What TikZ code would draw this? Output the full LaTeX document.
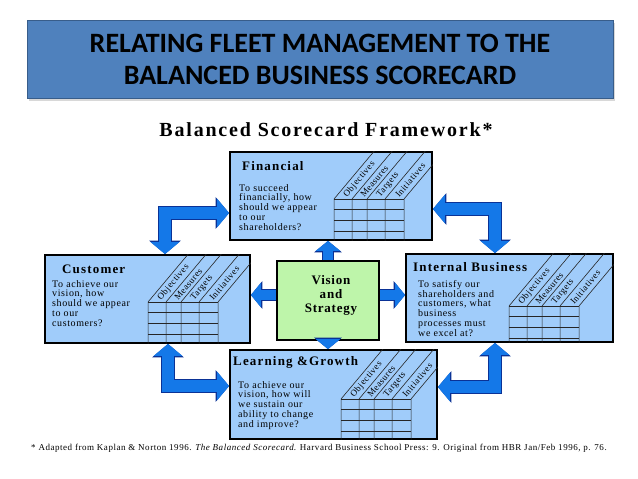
\documentclass[tikz,border=0pt]{standalone}
\usepackage{fontspec}
\setmainfont{Liberation Serif}
\newfontfamily\slidefont{Carlito}
\newfontfamily\cardfont{Liberation Serif}[LetterSpace=6]
\newfontfamily\widefont{Liberation Serif}[LetterSpace=9]
\usepackage{tikz}
\usetikzlibrary{arrows.meta}
\usetikzlibrary{shadows}
\definecolor{bannerblue}{RGB}{79,129,189}
\definecolor{bannerline}{RGB}{56,93,138}
\definecolor{cardblue}{RGB}{160,204,250}
\definecolor{visiongreen}{RGB}{190,245,170}
\definecolor{arrowblue}{RGB}{20,120,232}
\definecolor{arrowline}{RGB}{10,50,150}
\tikzset{card/.style={draw=black,line width=1.8pt,fill=cardblue,inner sep=0pt}}
\tikzset{cardhead/.style={anchor=base west,inner sep=0pt,
                          font=\widefont\bfseries\fontsize{13}{15}\selectfont}}
\tikzset{cardtext/.style={anchor=north west,inner sep=0pt,align=left,
                          font=\cardfont\fontsize{10}{9.8}\selectfont}}
\tikzset{colhead/.style={rotate=50,anchor=west,inner sep=0.5pt,
                         font=\cardfont\fontsize{9}{9}\selectfont}}
\tikzset{gridline/.style={draw=black!85,line width=0.6pt}}
\tikzset{coretip/.tip={Triangle[length=12pt,width=28pt]},
         rimtip/.tip={Triangle[length=13.5pt,width=31pt]},
         spoketip/.tip={Triangle[length=10pt,width=24pt]},
         spokerim/.tip={Triangle[length=11.4pt,width=27pt]}}
\tikzset{elbow/.style={draw=arrowblue,line width=12pt,arrows={coretip-coretip},
         preaction={draw=arrowline,line width=13.4pt,arrows={rimtip-rimtip}}}}
\tikzset{spoke/.style={draw=arrowblue,line width=10pt,arrows={-spoketip},
         preaction={draw=arrowline,line width=11.4pt,arrows={-spokerim}}}}

% #1 card, #2 left edge of the grid, #3 height of the grid (both from the
% lower left corner of the card)
\newcommand{\measuregrid}[3]{%
  \begin{scope}
    \clip (#1.south west) rectangle (#1.north east);
    \begin{scope}[shift={(#1.south west)}]
      \foreach \gx in {0,18,33,51,70}
        \draw[gridline] (#2+\gx,0) -- (#2+\gx,-#3) -- ++(50:90pt);
      \foreach \gy in {0,10,21,32}
        \draw[gridline] (#2,\gy-#3) -- (#2+70,\gy-#3);
      \foreach \lx/\lw/\lname [count=\li] in
          {0/18/Objectives,18/15/Measures,33/18/Targets,51/19/Initiatives}
        \node[colhead] (#1-head\li) at (#2+\lx+\lw/2+2,-#3-2.3) {\lname};
    \end{scope}
  \end{scope}}

\begin{document}
\begin{tikzpicture}[x=1pt,y=-1pt,>=latex]
  \useasboundingbox (0,0) rectangle (638,479);
  \fill[white] (0,0) rectangle (638,479);

  % Slide title and the heading of the framework
  \node[draw=bannerline,line width=0.8pt,fill=bannerblue,
        minimum width=586pt,minimum height=78pt,align=center,
        drop shadow={shadow xshift=2pt,shadow yshift=-3pt,opacity=0.3},
        font=\slidefont\bfseries\fontsize{28}{32}\selectfont]
    (banner) at (320,59) {RELATING FLEET MANAGEMENT TO THE\\BALANCED BUSINESS SCORECARD};
  \node[font=\widefont\bfseries\fontsize{20}{22}\selectfont]
    (framework) at (326,130) {Balanced Scorecard Framework*};

  % The four perspectives round the vision
  \node[card,minimum width=202pt,minimum height=88pt] (fin)  at (331,196) {};
  \node[card,minimum width=205pt,minimum height=88pt] (cust) at (147.5,299) {};
  \node[card,minimum width=207pt,minimum height=88pt] (int)  at (509.5,298) {};
  \node[card,minimum width=207pt,minimum height=89pt] (lg)   at (333.5,394.5) {};
  \node[card,fill=visiongreen,minimum width=102pt,minimum height=79pt] (vis) at (328,300.5) {};

  \measuregrid{fin}{105}{42}
  \measuregrid{cust}{104}{42}
  \measuregrid{int}{104}{37}
  \measuregrid{lg}{112}{41}

  \node[cardhead] (fin-title) at (242,170) {Financial};
  \node[cardtext] (fin-text) at (239,184)
    {To succeed\\financially, how\\should we appear\\to our\\shareholders?};
  \node[cardhead] (cust-title) at (62,273) {Customer};
  \node[cardtext] (cust-text) at (52,280)
    {To achieve our\\vision, how\\should we appear\\to our\\customers?};
  \node[cardhead] (int-title) at (413,271) {Internal Business};
  \node[cardtext] (int-text) at (418,280)
    {To satisfy our\\shareholders and\\customers, what\\business\\processes must\\we excel at?};
  \node[cardhead] (lg-title) at (233,365) {Learning \&Growth};
  \node[cardtext] (lg-text) at (238,381)
    {To achieve our\\vision, how will\\we sustain our\\ability to change\\and improve?};
  \node[align=center,font=\cardfont\bfseries\fontsize{13}{14}\selectfont]
    (vis-text) at (331,295) {Vision\\and\\Strategy};

  % Block arrows: the elbows join neighbouring cards, the spokes leave the vision
  \coordinate (bendnw) at (165,213);
  \coordinate (bendne) at (495,209);
  \coordinate (bendsw) at (168,386);
  \coordinate (bendse) at (495,387);
  \coordinate (spokey) at (328,295);
  \draw[elbow] (bendnw -| fin.west) -- (bendnw) -- (bendnw |- cust.north);
  \draw[elbow] (bendne -| fin.east) -- (bendne) -- (bendne |- int.north);
  \draw[elbow] (bendsw |- cust.south) -- (bendsw) -- (bendsw -| lg.west);
  \draw[elbow] (bendse |- int.south) -- (bendse) -- (bendse -| lg.east);
  \draw[spoke] (vis.north) -- (vis.north |- fin.south);
  \draw[spoke] (vis.south) -- (vis.south |- lg.north);
  \draw[spoke] (spokey -| vis.west) -- (spokey -| cust.east);
  \draw[spoke] (spokey -| vis.east) -- (spokey -| int.west);

  \node[font=\cardfont\fontsize{9}{10}\selectfont] (source) at (319,448)
    {* Adapted from Kaplan \& Norton 1996. \textit{The Balanced Scorecard}. Harvard Business School Press: 9. Original from HBR Jan/Feb 1996, p. 76.};
\end{tikzpicture}
\end{document}
